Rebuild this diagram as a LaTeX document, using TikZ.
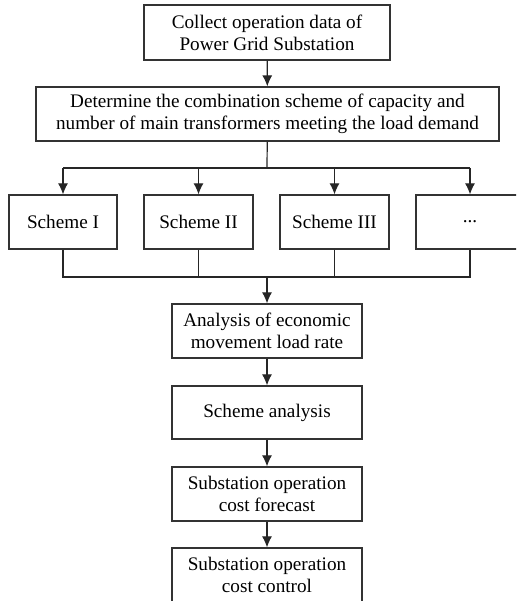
\documentclass[tikz,border=0pt]{standalone}
\usepackage{fontspec}
\setmainfont{Liberation Serif}
\usetikzlibrary{arrows.meta}

\tikzset{
  stepbox/.style={draw=black!80,line width=0.6pt,align=center,inner sep=0pt,minimum height=27pt,font=\fontsize{9.6}{11}\selectfont},
  flow/.style={line width=0.6pt,draw=black!85},
  arr/.style={flow,-{Latex[length=5.5pt,width=5pt]}}
}

\begin{document}
\begin{tikzpicture}[x=0.5pt,y=0.5pt]
\path[use as bounding box,clip] (0,0) rectangle (516,601);

%1
\node[stepbox,minimum width=123pt,minimum height=27.5pt] (collect) at (267,568.5) {Collect operation data of\\Power Grid Substation};
\node[stepbox,minimum width=231.5pt] (determine) at (267.5,487) {Determine the combination scheme of capacity and\\number of main transformers meeting the load demand};

%2
\node[stepbox,minimum width=54pt] (s1) at (63,379) {Scheme I};
\node[stepbox,minimum width=54.5pt] (s2) at (198.5,379) {Scheme II};
\node[stepbox,minimum width=54.5pt] (s3) at (334.5,379) {Scheme III};
\node[stepbox,minimum width=54pt] (s4) at (470,379) {...};

%3
\node[stepbox,minimum width=95pt] (analysis) at (267,270) {Analysis of economic\\movement load rate};
\node[stepbox,minimum width=95pt,minimum height=26.5pt] (schemeana) at (267,188.5) {Scheme analysis};
\node[stepbox,minimum width=95pt] (forecast) at (267,107) {Substation operation\\cost forecast};
\node[stepbox,minimum width=95pt] (control) at (267,26) {Substation operation\\cost control};

\coordinate (split) at (267,433);
\coordinate (merge) at (267,324);

\draw[arr] (collect) -- (determine);
\draw[flow] (determine) -- (split);
\draw[flow] (s1.north |- split) -- (s4.north |- split);
\draw[arr] (s1.north |- split) -- (s1);
\draw[arr] (s2.north |- split) -- (s2);
\draw[arr] (s3.north |- split) -- (s3);
\draw[arr] (s4.north |- split) -- (s4);

\draw[flow] (s1) -- (s1.south |- merge) -- (s4.south |- merge) -- (s4);
\draw[flow] (s2) -- (s2.south |- merge);
\draw[flow] (s3) -- (s3.south |- merge);
\draw[arr] (merge) -- (analysis);
\draw[arr] (analysis) -- (schemeana);
\draw[arr] (schemeana) -- (forecast);
\draw[arr] (forecast) -- (control);
\end{tikzpicture}
\end{document}
